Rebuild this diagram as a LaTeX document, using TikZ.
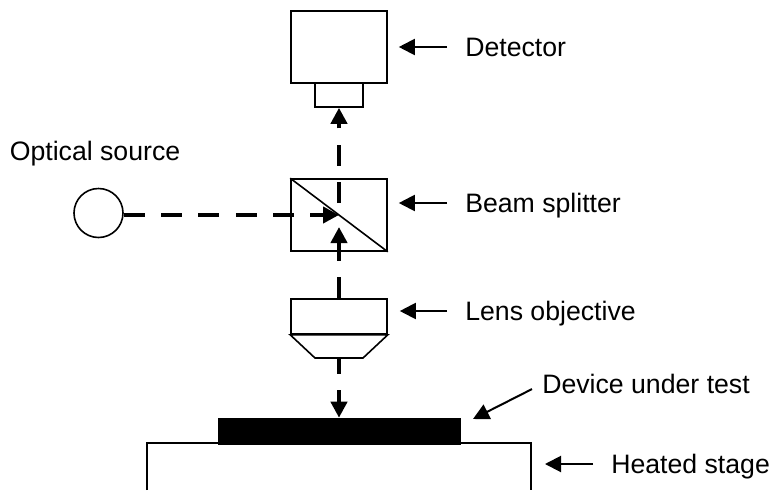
\documentclass[tikz,border=0pt]{standalone}
\usepackage{fontspec}
\setmainfont{Liberation Sans}
\usetikzlibrary{arrows.meta,positioning,calc}

\begin{document}
\begin{tikzpicture}[
  x=0.75pt, y=-0.75pt,
  box/.style={draw, line width=1.2pt, minimum width=72pt, inner sep=0pt, fill=white},
  lbl/.style={anchor=west, font=\fontsize{20pt}{22pt}\selectfont, inner sep=0pt, text height=14.25pt, text depth=0pt},
  ptr/.style={-{Triangle[length=12pt,width=12pt]}, line width=1.5pt},
  beam/.style={-{Triangle[length=12pt,width=12pt]}, line width=3.7pt, dash pattern=on 15.75pt off 12.25pt}
]
  \useasboundingbox (0,0) rectangle (772,490);

  % stage and device
  \draw[line width=0.9pt] (147,490) -- (147,443) -- (531,443) coordinate (stageedge) -- (531,490);
  \node[draw, fill=black, minimum width=181.5pt, minimum height=19.5pt, inner sep=0pt] (dut) at (339,431) {};
  \coordinate (dutp) at (473,419);

  % optics
  \node[box, minimum height=54pt] (detector) at (339,47) {};
  \node[box, minimum width=36pt, minimum height=18pt] (snout) at (339,95) {};
  \node[box, minimum height=54pt] (splitter) at (339,215) {};
  \draw[line width=1.2pt] (splitter.north west) -- (splitter.south east);
  \node[box, minimum height=26.25pt] (objective) at (339,316.5) {};
  \draw[line width=1.2pt, fill=white] (objective.south west) -- (315,358) coordinate (tipl)
    -- (363,358) coordinate (tipr) -- (objective.south east) -- cycle;
  \coordinate (tipc) at ($(tipl)!0.5!(tipr)$);
  \node[draw, circle, line width=1.2pt, minimum size=36.75pt, inner sep=0pt] (source) at (98.5,213) {};

  % beams
  \draw[beam] (source.east |- splitter.center) -- (splitter.center);
  \draw[beam, dash phase=19pt] (splitter.center) -- (snout.south);
  \draw[beam, shorten >=9pt] (objective.north) -- (splitter.center);
  \draw[beam, dash phase=3.75pt] (tipc) -- (dut.north);

  % labels
  \node[lbl] (ldet) at (465,47) {Detector};
  \node[lbl] (lsrc) at (9.5,151) {Optical source};
  \node[lbl] (lspl) at (465,203) {Beam splitter};
  \node[lbl] (lobj) at (465,311) {Lens objective};
  \node[lbl] (ldut) at (542,384) {Device under test};
  \node[lbl] (lstg) at (611,464) {Heated stage};

  \draw[ptr, shorten <=13.5pt, shorten >=8.25pt] (ldet.west) -- (ldet.west -| detector.east);
  \draw[ptr, shorten <=13.5pt, shorten >=8.25pt] (lspl.west) -- (lspl.west -| splitter.east);
  \draw[ptr, shorten <=13.5pt, shorten >=9pt] (lobj.west) -- (lobj.west -| objective.east);
  \draw[ptr, shorten <=8.4pt] (ldut.west) -- (dutp);
  \draw[ptr, shorten <=13.5pt, shorten >=10.5pt] (lstg.west) -- (lstg.west -| stageedge);
\end{tikzpicture}
\end{document}
